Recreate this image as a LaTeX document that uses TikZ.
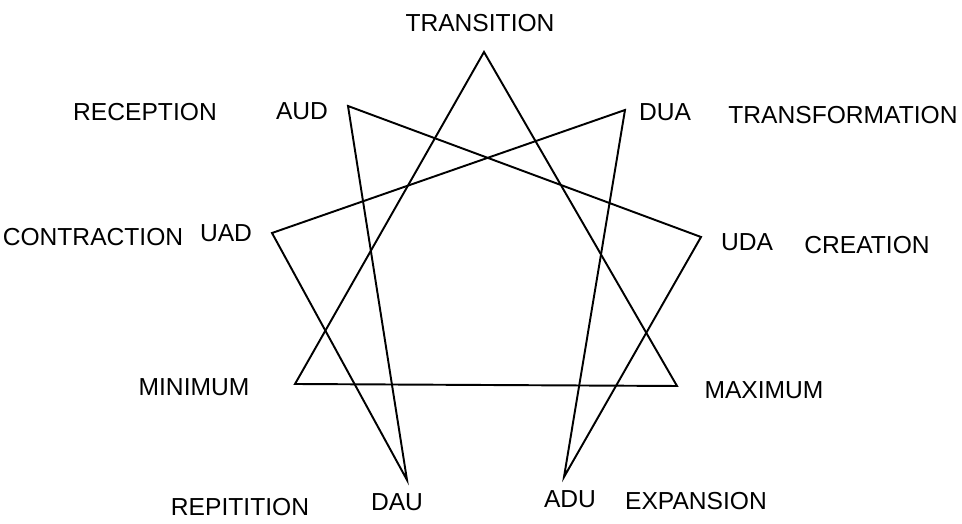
\documentclass[tikz,border=0pt]{standalone}
\usepackage{fontspec}
\setmainfont{Liberation Sans}
\usetikzlibrary{positioning}
\tikzset{
  lbl/.style={inner sep=0pt, font=\fontsize{14}{16}\selectfont},
  starline/.style={line width=1.1pt, line join=miter}
}
\begin{document}
\begin{tikzpicture}
            \useasboundingbox (0,0) rectangle (19.24,10.48);
            % points of the star
            \coordinate (trans) at (9.68,9.44);
            \coordinate (aud) at (6.96,8.36);
            \coordinate (dua) at (12.50,8.28);
            \coordinate (uad) at (5.44,5.82);
            \coordinate (uda) at (14.02,5.74);
            \coordinate (min) at (5.90,2.80);
            \coordinate (max) at (13.54,2.76);
            \coordinate (dau) at (8.14,0.88);
            \coordinate (adu) at (11.28,0.94);
            % triangle
            \draw[starline] (trans) -- (max) -- (min) -- cycle;
            % hexad
            \draw[starline] (aud) -- (uda) -- (adu) -- (dua) -- (uad) -- (dau) -- cycle;
            % labels
            \node[lbl] (ltrans) at (9.60,10.02) {TRANSITION};
            \node[lbl] (lrecep) at (2.90,8.24) {RECEPTION};
            \node[lbl] (laud) at (6.04,8.26) {AUD};
            \node[lbl] (lcontr) at (1.86,5.74) {CONTRACTION};
            \node[lbl] (luad) at (4.52,5.82) {UAD};
            \node[lbl] (ldua) at (13.30,8.24) {DUA};
            \node[lbl] (ltransf) at (16.86,8.18) {TRANSFORMATION};
            \node[lbl] (luda) at (14.94,5.64) {UDA};
            \node[lbl] (lcreat) at (17.34,5.58) {CREATION};
            \node[lbl] (lmin) at (3.88,2.74) {MINIMUM};
            \node[lbl] (lmax) at (15.28,2.68) {MAXIMUM};
            \node[lbl] (lrep) at (4.80,0.34) {REPITITION};
            \node[lbl] (ldau) at (7.94,0.44) {DAU};
            \node[lbl] (ladu) at (11.40,0.50) {ADU};
            \node[lbl] (lexp) at (13.92,0.46) {EXPANSION};
\end{tikzpicture}
\end{document}
